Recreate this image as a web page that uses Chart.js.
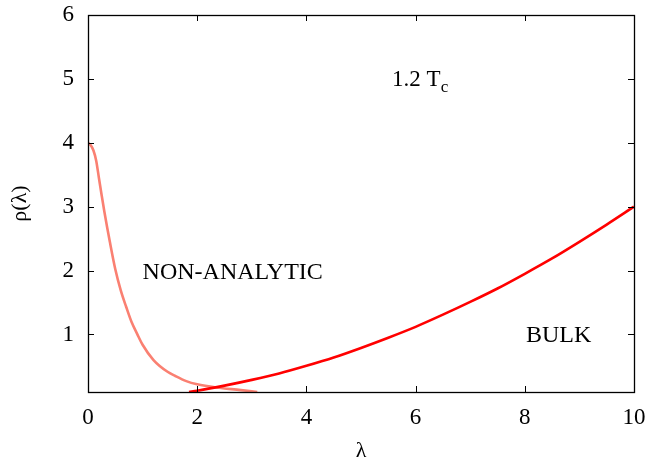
<!DOCTYPE html>
<html>
<head>
<meta charset="utf-8">
<script src="https://cdn.jsdelivr.net/npm/chart.js@4/dist/chart.umd.min.js"></script>
<style>
  html, body { margin: 0; padding: 0; background: #fff; }
  #wrap { width: 651px; height: 462px; }
</style>
</head>
<body>
<div id="wrap"><canvas id="rhoChart" width="651" height="462"></canvas></div>
<script>
const SERIF = '"Liberation Serif", "Times New Roman", serif';

// non-analytic branch (drops from 4 at lambda = 0)
const nonAnalyticX = [0, 0.05, 0.1, 0.15, 0.2, 0.25, 0.3, 0.4, 0.5, 0.6, 0.7, 0.8, 0.9, 1.0, 1.2, 1.45, 1.6, 1.8, 2.0, 2.35, 2.8, 3.1];
const nonAnalyticY = [4.0, 3.96, 3.88, 3.72, 3.45, 3.18, 2.92, 2.45, 2.02, 1.69, 1.43, 1.19, 1.01, 0.84, 0.6, 0.42, 0.35, 0.27, 0.22, 0.17, 0.13, 0.1];

// bulk branch
const bulkX = [1.85, 2.0, 2.5, 3.0, 3.5, 4.0, 4.5, 5.0, 5.5, 6.0, 6.5, 7.0, 7.5, 8.0, 8.5, 9.0, 9.5, 10.0];
const bulkY = [0.1, 0.12, 0.2, 0.29, 0.39, 0.51, 0.64, 0.79, 0.95, 1.12, 1.31, 1.51, 1.72, 1.95, 2.19, 2.45, 2.72, 3.0];

const xTicks = [0, 2, 4, 6, 8, 10];
const yTicks = [1, 2, 3, 4, 5, 6];

// region labels, anchored at left edge / baseline in data units
const notes = [
  { text: 'NON-ANALYTIC', x: 1.0, y: 1.875 },
  { text: 'BULK', x: 8.02, y: 0.875 },
];
const tempNote = { text: '1.2 T', sub: 'c', x: 5.57, y: 4.89 };

const toPoints = (xs, ys) => xs.map((x, i) => ({ x, y: ys[i] }));

// frame, inward ticks on all four sides, and the text labels
const framePlugin = {
  id: 'frame',
  afterDatasetsDraw(chart) {
    const { ctx, chartArea: a, scales: { x, y } } = chart;
    const len = 6;
    ctx.save();
    ctx.strokeStyle = '#000';
    ctx.lineWidth = 1;
    ctx.beginPath();
    xTicks.forEach(v => {
      const px = Math.round(x.getPixelForValue(v)) + 0.5;
      ctx.moveTo(px, a.bottom); ctx.lineTo(px, a.bottom - len);
      ctx.moveTo(px, a.top); ctx.lineTo(px, a.top + len);
    });
    yTicks.forEach(v => {
      const py = Math.round(y.getPixelForValue(v)) + 0.5;
      ctx.moveTo(a.left, py); ctx.lineTo(a.left + len, py);
      ctx.moveTo(a.right, py); ctx.lineTo(a.right - len, py);
    });
    ctx.stroke();
    ctx.lineWidth = 1.3;
    ctx.strokeRect(Math.round(a.left) + 0.5, Math.round(a.top) + 0.5,
      Math.round(a.right - a.left), Math.round(a.bottom - a.top));

    ctx.fillStyle = '#000';
    ctx.textBaseline = 'alphabetic';
    ctx.textAlign = 'left';
    ctx.font = `24px ${SERIF}`;
    notes.forEach(n => {
      ctx.fillText(n.text, x.getPixelForValue(n.x), y.getPixelForValue(n.y));
    });
    ctx.font = `23px ${SERIF}`;
    const tx = x.getPixelForValue(tempNote.x);
    const ty = y.getPixelForValue(tempNote.y);
    ctx.fillText(tempNote.text, tx, ty);
    const w = ctx.measureText(tempNote.text).width;
    ctx.font = `17px ${SERIF}`;
    ctx.fillText(tempNote.sub, tx + w, ty + 6);
    ctx.restore();
  },
};

new Chart(document.getElementById('rhoChart'), {
  type: 'line',
  data: {
    datasets: [
      {
        label: 'bulk',
        data: toPoints(bulkX, bulkY),
        borderColor: '#ff0000',
        borderWidth: 2.6,
        pointRadius: 0,
        fill: false,
        cubicInterpolationMode: 'monotone',
      },
      {
        label: 'non-analytic',
        data: toPoints(nonAnalyticX, nonAnalyticY),
        borderColor: '#fa8072',
        borderWidth: 2.6,
        pointRadius: 0,
        fill: false,
        cubicInterpolationMode: 'monotone',
      },
    ],
  },
  options: {
    responsive: false,
    animation: false,
    layout: { padding: { top: 15, right: 17, left: 0, bottom: 0 } },
    plugins: { legend: { display: false }, tooltip: { enabled: false } },
    scales: {
      x: {
        type: 'linear',
        min: 0,
        max: 10,
        afterBuildTicks: s => { s.ticks = xTicks.map(v => ({ value: v })); },
        afterFit: s => { s.height = 70; s.paddingLeft = 0; s.paddingRight = 0; },
        grid: { display: false },
        border: { display: false },
        ticks: { color: '#000', padding: 4, font: { family: SERIF, size: 23 } },
        title: {
          display: true,
          text: 'λ',
          color: '#000',
          padding: { top: 0, bottom: -2 },
          font: { family: SERIF, size: 22 },
        },
      },
      y: {
        type: 'linear',
        min: 0.1,
        max: 6,
        afterBuildTicks: s => { s.ticks = yTicks.map(v => ({ value: v })); },
        afterFit: s => { s.width = 88; s.paddingTop = 0; s.paddingBottom = 0; },
        grid: { display: false },
        border: { display: false },
        ticks: { color: '#000', padding: 6, font: { family: SERIF, size: 23 } },
        title: {
          display: true,
          text: 'ρ(λ)',
          color: '#000',
          padding: { top: 7, bottom: 0 },
          font: { family: SERIF, size: 22 },
        },
      },
    },
  },
  plugins: [framePlugin],
});
</script>
</body>
</html>
